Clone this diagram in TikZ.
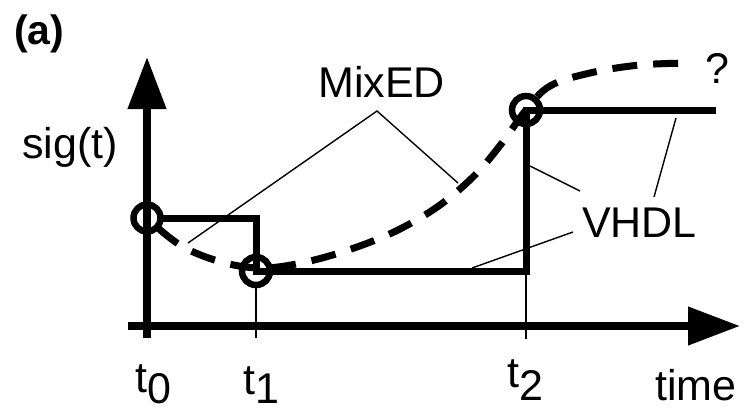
\documentclass[tikz,border=0pt]{standalone}
\usepackage{fontspec}
\setmainfont{Liberation Sans}
\usetikzlibrary{arrows.meta}
\begin{document}
\begin{tikzpicture}[x=1pt,y=-1pt,
  axisline/.style={line width=7.5pt, -{Triangle[length=52pt,width=37pt]}},
  sigline/.style={line width=7pt},
  dashcurve/.style={line width=7pt, dash pattern=on 25pt off 16pt},
  markcirc/.style={line width=6.5pt},
  thin/.style={line width=1.4pt},
  tickline/.style={line width=1.8pt},
  lbl/.style={inner sep=0pt, anchor=base west, font=\fontsize{43}{50}\selectfont}]
\useasboundingbox (0,0) rectangle (747,408);
% coordinates
\coordinate (o0) at (147,218);
\coordinate (o0r) at (161,218);
\coordinate (c1) at (256,218);
\coordinate (o1) at (256,271);
\coordinate (c2) at (526,271);
\coordinate (o2) at (526,110);
\coordinate (send) at (716,110);
\coordinate (yb) at (147,338);
\coordinate (yt) at (147,57);
\coordinate (xb) at (128,326);
\coordinate (xt) at (740,326);
\coordinate (tk1a) at (256,285);
\coordinate (tk1b) at (256,338);
\coordinate (tk2a) at (526,275);
\coordinate (tk2b) at (526,339);
\coordinate (mapex) at (377,111);
\coordinate (mleft) at (188,243);
\coordinate (mright) at (458,183);
\coordinate (va1) at (580,191);
\coordinate (vb1) at (530,166);
\coordinate (va2) at (654,197);
\coordinate (vb2) at (676,118);
\coordinate (va3) at (573,232);
\coordinate (vb3) at (472,268);
% axes
\draw[axisline] (yb) -- (yt);
\draw[axisline] (xb) -- (xt);
% ticks
\draw[tickline] (tk1a) -- (tk1b);
\draw[tickline] (tk2a) -- (tk2b);
% VHDL signal
\draw[sigline] (o0r) -- (c1) -- (o1) -- (c2) -- (o2) -- (send);
% MixED curve
\draw[dashcurve] plot[smooth, tension=0.6] coordinates {(158,228) (185,248) (225,263) (265,268) (310,261) (357,247) (400,229) (440,205) (475,175) (502,143) (526,110) (550,86) (590,73) (640,65) (692,63)};
% circles
\draw[markcirc] (o0) circle (13.5);
\draw[markcirc] (o1) circle (14);
\draw[markcirc] (o2) circle (14);
% callouts
\draw[thin] (mleft) -- (mapex) -- (mright);
\draw[thin] (va1) -- (vb1);
\draw[thin] (va2) -- (vb2);
\draw[thin] (va3) -- (vb3);
% labels
\node[lbl, font=\fontsize{41}{50}\selectfont\bfseries] (lab) at (14,44) {(a)};
\node[lbl] (sig) at (22,158) {sig(t)};
\node[lbl] (mix) at (318,97) {MixED};
\node[lbl] (vhdl) at (582,237) {VHDL};
\node[lbl] (q) at (705,83) {?};
\node[lbl] (t0) at (135,392) {t\raisebox{-11pt}{0}};
\node[lbl] (t1) at (243,394) {t\raisebox{-9pt}{1}};
\node[lbl] (t2) at (507,387) {t\raisebox{-13pt}{2}};
\node[lbl] (time) at (655,400) {time};
\end{tikzpicture}
\end{document}
